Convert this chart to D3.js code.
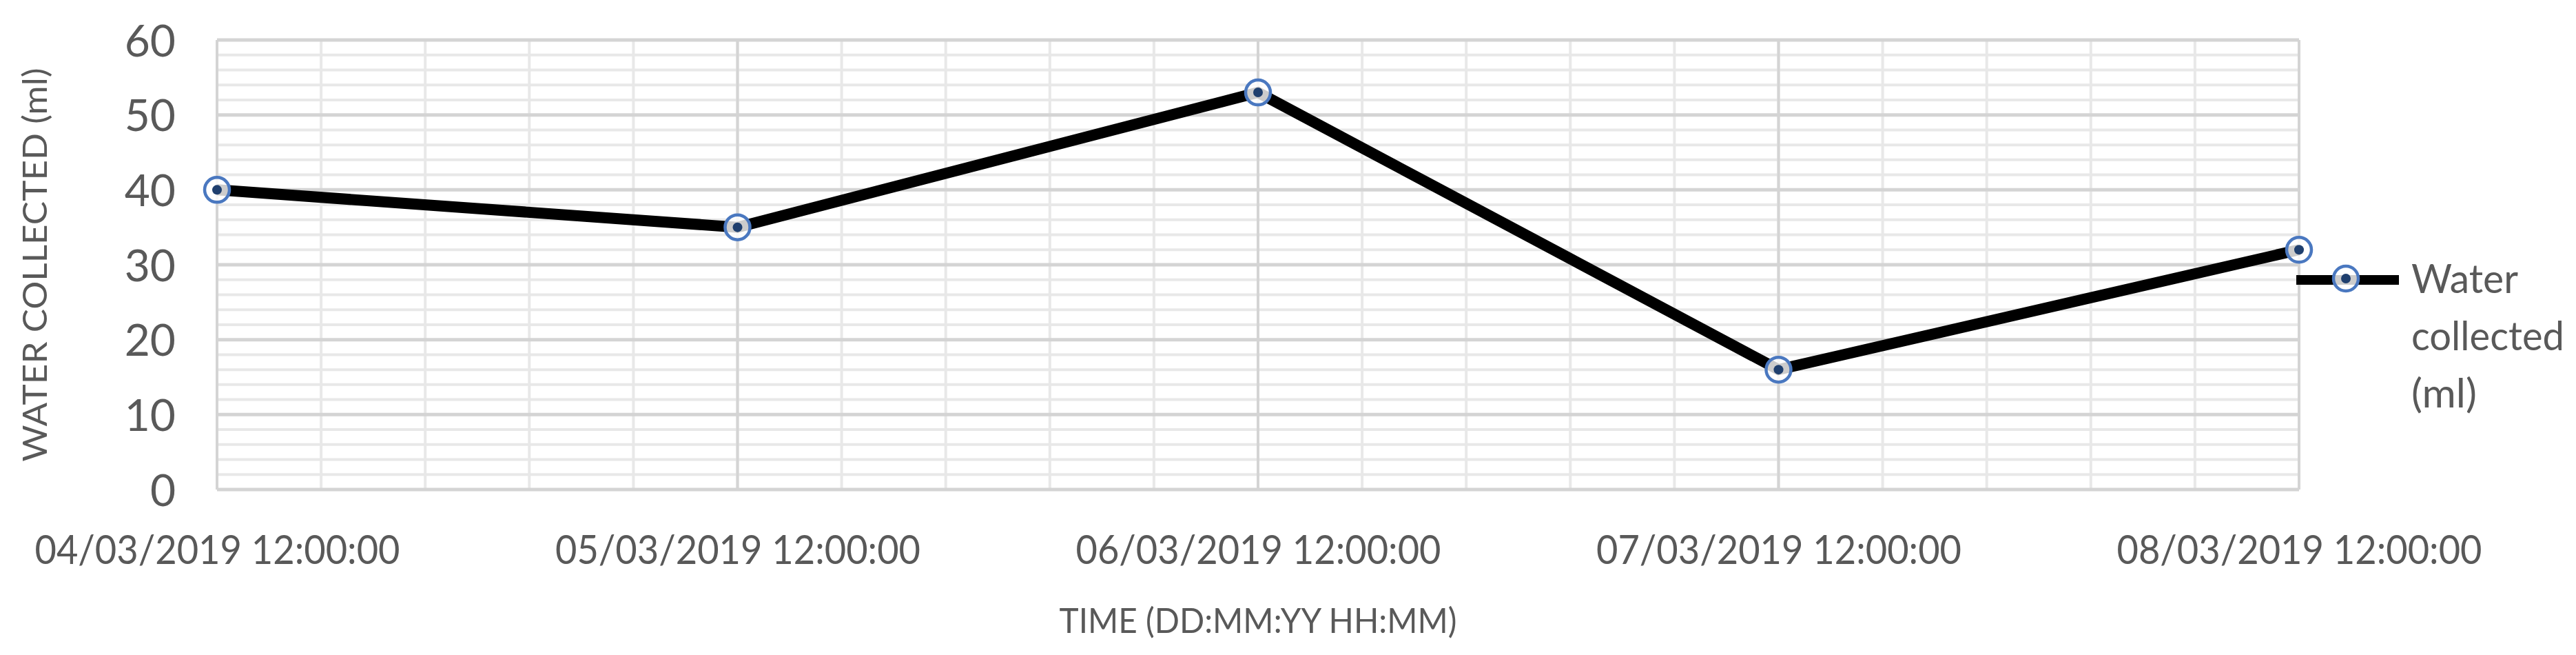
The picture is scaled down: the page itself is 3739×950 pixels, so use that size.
<!DOCTYPE html>
<html>
<head>
<meta charset="utf-8">
<script src="https://cdn.jsdelivr.net/npm/d3@7"></script>
<style>
	body { margin: 0; background: #fff; }
	text { font-family: Lato, "Open Sans", sans-serif; fill: #595959; }
</style>
</head>
<body>
<div id="chart-area"></div>
<script>
// data
var timeLabels = ["04/03/2019 12:00:00", "05/03/2019 12:00:00", "06/03/2019 12:00:00", "07/03/2019 12:00:00", "08/03/2019 12:00:00"];
var waterCollected = [40, 35, 53, 16, 32];
var yTicks = [0, 10, 20, 30, 40, 50, 60];
var seriesName = ["Water", "collected", "(ml)"];
var xTitle = "TIME (DD:MM:YY HH:MM)";
var yTitle = "WATER COLLECTED (ml)";

var parseTime = d3.timeParse("%d/%m/%Y %H:%M:%S");
var formatTime = d3.timeFormat("%d/%m/%Y %H:%M:%S");

var data = timeLabels.map(function (t, i) {
	return { date: parseTime(t), value: waterCollected[i] };
});

var margin = { left: 315, right: 402, top: 58, bottom: 240 },
    width = 3739 - margin.left - margin.right,
    height = 950 - margin.top - margin.bottom;

var svg = d3.select("#chart-area").append("svg")
	.attr("width", 3739)
	.attr("height", 950);

svg.append("rect").attr("width", 3739).attr("height", 950).attr("fill", "#fff");

var g = svg.append("g").attr("transform", "translate(" + margin.left + ", " + margin.top + ")");

var x = d3.scaleTime().domain(d3.extent(data, function (d) { return d.date; })).range([0, width]);
var y = d3.scaleLinear().domain([0, 60]).range([height, 0]);

// gridlines: minor every 2 ml / fifth of a day, major every 10 ml / day
var t0 = x.domain()[0].getTime();
var minorX = d3.range(0, 21).map(function (i) { return new Date(t0 + i * 0.2 * 864e5); });
var minorY = d3.range(0, 61, 2);

g.selectAll(".minor-y").data(minorY).enter().append("line")
	.attr("x1", 0).attr("x2", width)
	.attr("y1", function (d) { return y(d); }).attr("y2", function (d) { return y(d); })
	.attr("stroke", "#e8e8e8").attr("stroke-width", 4);

g.selectAll(".minor-x").data(minorX).enter().append("line")
	.attr("x1", function (d) { return x(d); }).attr("x2", function (d) { return x(d); })
	.attr("y1", 0).attr("y2", height)
	.attr("stroke", "#e8e8e8").attr("stroke-width", 4);

g.selectAll(".major-x").data(data).enter().append("line")
	.attr("x1", function (d) { return x(d.date); }).attr("x2", function (d) { return x(d.date); })
	.attr("y1", 0).attr("y2", height)
	.attr("stroke", "#d4d4d4").attr("stroke-width", 4);

g.selectAll(".major-y").data(yTicks).enter().append("line")
	.attr("x1", 0).attr("x2", width)
	.attr("y1", function (d) { return y(d); }).attr("y2", function (d) { return y(d); })
	.attr("stroke", "#d4d4d4").attr("stroke-width", 5);

// y axis labels
var yAxis = d3.axisLeft(y).tickValues(yTicks).tickSize(0).tickPadding(60);
var yg = g.append("g").call(yAxis);
yg.select(".domain").remove();
yg.selectAll("text").style("font-size", "64px").attr("fill", "#595959").attr("dy", "0.36em");

// x axis labels
var xAxis = d3.axisBottom(x).tickValues(data.map(function (d) { return d.date; })).tickFormat(formatTime).tickSize(0).tickPadding(0);
var xg = g.append("g").attr("transform", "translate(0," + height + ")").call(xAxis);
xg.select(".domain").remove();
xg.selectAll("text")
	.attr("dy", null).attr("y", 108)
	.style("font-size", "59px").attr("fill", "#595959")
	.attr("textLength", 530).attr("lengthAdjust", "spacingAndGlyphs");

// axis titles
svg.append("text")
	.attr("x", margin.left + width / 2).attr("y", 918)
	.attr("text-anchor", "middle")
	.style("font-size", "50px")
	.attr("textLength", 577).attr("lengthAdjust", "spacingAndGlyphs")
	.text(xTitle);

svg.append("text")
	.attr("transform", "translate(68," + (margin.top + height / 2) + ") rotate(-90)")
	.attr("text-anchor", "middle")
	.style("font-size", "49px")
	.attr("textLength", 571).attr("lengthAdjust", "spacingAndGlyphs")
	.text(yTitle);

// series line
var line = d3.line()
	.x(function (d) { return x(d.date); })
	.y(function (d) { return y(d.value); });

g.append("path").datum(data)
	.attr("d", line)
	.attr("fill", "none")
	.attr("stroke", "#000")
	.attr("stroke-width", 16)
	.attr("stroke-linejoin", "miter");

function marker(sel) {
	sel.append("circle").attr("r", 18).attr("fill", "#fff").attr("fill-opacity", 0.8)
		.attr("stroke", "#4a78c0").attr("stroke-width", 4.5);
	sel.append("circle").attr("r", 7).attr("fill", "#1f3f6e");
}

g.selectAll(".marker").data(data).enter().append("g")
	.attr("class", "marker")
	.attr("transform", function (d) { return "translate(" + x(d.date) + "," + y(d.value) + ")"; })
	.call(marker);

// legend
var legend = svg.append("g").attr("transform", "translate(3333,406)");
legend.append("line").attr("x1", 0).attr("x2", 149).attr("y1", 0).attr("y2", 0)
	.attr("stroke", "#000").attr("stroke-width", 14);
legend.append("g").attr("transform", "translate(72,-2)").call(marker);
var lens = [155, 222, 95];
legend.selectAll(".ltext").data(seriesName).enter().append("text")
	.attr("x", 167)
	.attr("y", function (d, i) { return 19 + i * 83; })
	.style("font-size", "58px")
	.attr("textLength", function (d, i) { return lens[i]; })
	.attr("lengthAdjust", "spacingAndGlyphs")
	.text(function (d) { return d; });
</script>
</body>
</html>
